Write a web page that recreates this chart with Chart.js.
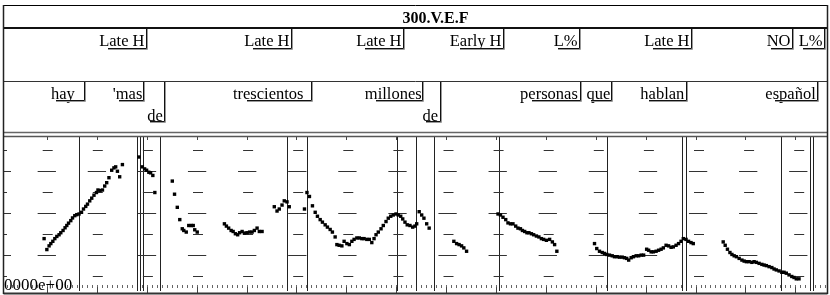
<!DOCTYPE html>
<html><head><meta charset="utf-8">
<script src="https://cdn.jsdelivr.net/npm/chart.js@4.4.1/dist/chart.umd.min.js"></script>
<style>html,body{margin:0;padding:0;background:#fff;}#wrap{position:relative;width:830px;height:295px;}canvas{display:block;}</style>
</head><body><div id="wrap"><canvas id="c" width="830" height="295"></canvas></div>
<script>
// ---------- data ----------
const title = "300.V.E.F";
const toneLabels = ["Late H","Late H","Late H","Early H","L%","Late H","NO","L%"];
const toneTimes  = [0.596,1.176,1.624,2.026,2.330,2.780,3.184,3.313];
const wordLabels = ["hay","'mas","de","trescientos","millones","de","personas","que","hablan","español"];
const wordTimes  = [0.344,0.584,0.665,1.256,1.702,1.773,2.333,2.461,2.760,3.286];
const wordTextEnds = [0.309,0.580,0.662,1.226,1.700,1.766,2.326,2.456,2.753,3.280];
const wordLines  = [0,0,1,0,0,1,0,0,0,0];
const pitchBoundaries = [0.329,0.560,0.571,0.584,0.653,1.162,1.242,1.602,1.681,1.752,2.013,2.446,2.744,2.760,3.144,3.261,3.272];
const yAxisLabel = "0000e+00";
const longLevels  = [100,150,200];
const shortLevels = [75,125,175,225];
const pitchTrack = [
 [0.186,120.0],[0.197,107.0],[0.206,111.4],[0.213,114.1],[0.221,116.8],[0.229,120.0],[0.237,122.6],[0.246,124.6],[0.253,127.0],[0.262,129.7],
 [0.270,132.9],[0.277,135.6],[0.284,138.4],[0.293,141.4],[0.300,144.6],[0.309,147.3],[0.317,148.5],[0.326,149.3],[0.336,151.3],[0.344,155.2],
 [0.353,158.3],[0.360,161.0],[0.369,164.9],[0.377,168.1],[0.386,171.6],[0.396,174.8],[0.402,177.8],[0.410,177.1],[0.420,177.8],[0.429,182.5],
 [0.437,186.5],[0.446,192.4],[0.457,201.3],[0.466,204.1],[0.473,205.3],[0.480,200.1],[0.489,193.5],[0.500,208.0],
 [0.566,217.0],[0.580,205.3],[0.589,202.9],[0.597,201.3],[0.606,198.9],[0.613,198.2],[0.622,195.1],[0.630,174.8],
 [0.700,188.4],[0.709,172.8],[0.720,157.2],[0.730,142.6],[0.740,131.7],[0.746,129.7],[0.756,127.8],[0.766,135.6],[0.776,135.6],[0.784,135.6],[0.790,130.5],[0.800,127.8],
 [0.909,137.6],[0.917,134.9],[0.926,132.5],[0.936,129.7],[0.944,128.5],[0.953,125.8],[0.962,124.6],[0.970,127.0],[0.980,128.5],[0.989,126.6],
 [1.000,127.0],[1.010,127.8],[1.020,127.8],[1.029,129.7],[1.040,132.5],[1.049,128.5],[1.060,128.5],
 [1.109,157.9],[1.120,152.8],[1.129,155.2],[1.140,159.9],[1.149,164.9],[1.160,163.7],[1.169,157.9],
 [1.230,155.2],[1.240,174.8],[1.250,170.1],[1.262,159.0],[1.273,151.3],[1.282,146.6],[1.293,142.6],[1.302,139.6],[1.313,136.4],[1.322,133.7],
 [1.333,130.9],[1.342,127.8],[1.353,122.0],[1.360,112.9],[1.369,112.1],[1.380,111.4],[1.389,116.8],[1.400,114.1],[1.410,112.9],[1.420,116.8],
 [1.429,119.1],[1.440,120.8],[1.450,120.8],[1.460,120.0],[1.469,120.0],[1.480,119.1],[1.490,119.1],[1.500,115.3],[1.509,120.0],[1.517,124.6],
 [1.526,127.8],[1.537,131.7],[1.546,135.6],[1.557,140.3],[1.566,144.3],[1.576,146.6],[1.586,148.1],[1.597,149.3],[1.606,148.1],[1.616,146.6],
 [1.624,143.4],[1.633,139.6],[1.642,136.4],[1.653,135.6],[1.664,133.7],[1.673,134.9],[1.680,137.6],[1.690,152.0],[1.700,148.1],[1.709,144.3],
 [1.720,137.6],[1.730,132.5],
 [1.829,116.8],[1.840,114.1],[1.850,112.9],[1.860,111.4],[1.869,109.0],[1.880,105.0],
 [2.006,149.3],[2.016,148.1],[2.026,145.4],[2.037,142.6],[2.046,138.7],[2.056,137.6],[2.066,137.6],[2.077,134.9],[2.086,132.5],[2.096,131.7],
 [2.104,129.7],[2.113,128.5],[2.122,127.0],[2.130,127.0],[2.140,125.8],[2.149,124.6],[2.160,123.1],[2.170,122.0],[2.180,120.0],[2.189,119.1],
 [2.200,118.0],[2.213,119.1],[2.224,116.1],[2.233,112.9],[2.242,105.0],
 [2.393,114.1],[2.402,108.2],[2.413,105.0],[2.424,103.5],[2.433,102.4],[2.442,101.2],[2.453,100.4],[2.464,99.6],[2.473,98.5],[2.484,98.5],
 [2.493,98.0],[2.504,98.0],[2.513,97.3],[2.522,96.5],[2.530,94.5],[2.540,97.3],[2.549,98.5],[2.560,99.6],[2.570,99.6],[2.580,100.4],
 [2.590,100.4],[2.602,107.4],[2.610,106.2],[2.620,104.3],[2.629,104.3],[2.640,105.0],[2.650,106.2],[2.660,107.4],[2.669,109.0],[2.680,112.1],
 [2.690,111.4],[2.700,109.7],[2.709,110.2],[2.720,112.1],[2.730,114.1],[2.740,116.8],[2.749,120.0],[2.760,119.1],[2.770,116.8],[2.780,115.3],[2.789,114.1],
 [2.909,116.1],[2.917,112.1],[2.926,107.4],[2.936,103.5],[2.944,101.2],[2.953,99.6],[2.962,98.5],[2.973,96.5],[2.984,94.5],[2.993,93.3],
 [3.002,92.6],[3.013,92.6],[3.024,91.8],[3.033,92.6],[3.042,91.8],[3.053,90.6],[3.064,89.4],[3.073,88.6],[3.082,87.9],[3.093,86.7],
 [3.104,85.6],[3.113,83.9],[3.122,82.8],[3.133,81.6],[3.144,80.0],[3.153,80.0],[3.162,78.9],[3.173,76.9],[3.184,75.0],[3.193,73.8],[3.202,72.2],[3.213,72.2]
];

// ---------- axis ranges ----------
const T_MIN = 0.0252, T_MAX = 3.3212;
const HZ_MIN = 57.75, HZ_MAX = 240.8;
const TICKROW_HZ = 64.8;
const MINOR_STEP = 0.02, MAJOR_STEP = 0.2;

const SERIF = '"Liberation Serif", "Times New Roman", serif';

function stepTicks(step){
  const out = [];
  for (let k = Math.ceil(T_MIN/step); k*step <= T_MAX; k++) out.push({value: +(k*step).toFixed(4)});
  return out;
}

const frame = {
  id: 'frame',
  afterDraw(chart){
    const ctx = chart.ctx, xs = chart.scales.x;
    const L = 3.5, R = 827.5;
    ctx.save();
    const line = (x1,y1,x2,y2,w,c) => {ctx.beginPath();ctx.lineWidth=w;ctx.strokeStyle=c;ctx.moveTo(x1,y1);ctx.lineTo(x2,y2);ctx.stroke();};
    line(L,5.5,R,5.5,1,'#000');
    line(L,28,R,28,2,'#111');
    line(L,81.5,R,81.5,1,'#333');
    line(L,132.5,R,132.5,1.5,'#666');
    line(L,136.5,R,136.5,1.5,'#555');
    line(L,293.5,R,293.5,2,'#333');
    line(L,5,L,294,1.5,'#222');
    line(R,5,R,294,1.5,'#222');

    ctx.fillStyle = '#000';
    ctx.textBaseline = 'alphabetic';
    ctx.font = 'bold 16px ' + SERIF;
    ctx.textAlign = 'center';
    ctx.fillText(title, 435.5, 22.5);

    const drawLabel = (lab, bt, et, top, base, under) => {
      ctx.font = '16.5px ' + SERIF;
      ctx.textAlign = 'right';
      const bx = Math.round(xs.getPixelForValue(bt)) + 0.5;
      const tx = et == null ? bx - 2 : xs.getPixelForValue(et);
      const w = ctx.measureText(lab).width;
      ctx.fillStyle = '#000';
      ctx.fillText(lab, tx, base);
      const ux = Math.round(tx - w*0.8);
      line(ux, under+1, bx+1, under+1, 1, '#9a9a9a');
      line(bx+1, top, bx+1, under+1, 1, '#9a9a9a');
      ctx.beginPath();ctx.lineWidth=1;ctx.strokeStyle='#111';
      ctx.moveTo(ux, under);ctx.lineTo(bx, under);ctx.lineTo(bx, top);ctx.stroke();
    };
    toneLabels.forEach((lab,i) => drawLabel(lab, toneTimes[i], null, 29, 46, 48.5));
    const rowBase = [98.5, 120.5], rowUnder = [100.5, 121.5];
    wordLabels.forEach((lab,i) => drawLabel(lab, wordTimes[i], wordTextEnds[i], 82, rowBase[wordLines[i]], rowUnder[wordLines[i]]));

    ctx.font = '17px ' + SERIF;
    ctx.textAlign = 'left';
    ctx.fillStyle = '#000';
    ctx.fillText(yAxisLabel, 4, 289.5);
    ctx.restore();
  }
};

new Chart(document.getElementById('c'), {
  type: 'scatter',
  data: { datasets: [{
    data: pitchTrack.map(([t,hz]) => ({x: t, y: hz})),
    pointStyle: 'rect', pointRadius: 2.4, pointBorderWidth: 0,
    backgroundColor: '#000', borderColor: '#000', showLine: false
  }]},
  options: {
    responsive: false, animation: false, devicePixelRatio: 1, events: [],
    layout: { padding: { top: 137, bottom: 2, left: 3, right: 3 } },
    plugins: { legend: {display: false}, tooltip: {enabled: false} },
    scales: {
      x: { type: 'linear', min: T_MIN, max: T_MAX, position: {y: TICKROW_HZ},
           ticks: {display: false}, border: {display: false},
           grid: {drawOnChartArea: false, drawTicks: true, tickLength: 3, tickColor: '#666', tickWidth: 1},
           afterBuildTicks: s => { s.ticks = stepTicks(MINOR_STEP); } },
      xt: { axis: 'x', type: 'linear', min: T_MIN, max: T_MAX, position: {y: HZ_MAX},
           ticks: {display: false}, border: {display: false},
           grid: {drawOnChartArea: false, drawTicks: true, tickLength: 3, tickColor: '#444'},
           afterBuildTicks: s => { s.ticks = stepTicks(MAJOR_STEP); } },
      xm: { axis: 'x', type: 'linear', min: T_MIN, max: T_MAX, position: {y: TICKROW_HZ - 2},
           ticks: {display: false}, border: {display: false},
           grid: {drawOnChartArea: false, drawTicks: true, tickLength: 6, tickColor: '#444'},
           afterBuildTicks: s => { s.ticks = stepTicks(MAJOR_STEP); } },
      xb: { axis: 'x', type: 'linear', min: T_MIN, max: T_MAX, position: {y: HZ_MIN},
           ticks: {display: false}, border: {display: false},
           grid: {drawOnChartArea: true, drawTicks: false, color: '#222', lineWidth: 1},
           afterBuildTicks: s => { s.ticks = pitchBoundaries.map(v => ({value: v})); } },
      y: { type: 'linear', min: HZ_MIN, max: HZ_MAX, position: {x: 0.0532},
           ticks: {display: false},
           border: {display: false, dash: [18.3, 31.8], dashOffset: 16.45},
           grid: {color: '#333', lineWidth: 1, drawTicks: true, tickLength: 7},
           afterBuildTicks: s => { s.ticks = longLevels.map(v => ({value: v})); } },
      y2: { axis: 'y', type: 'linear', min: HZ_MIN, max: HZ_MAX, position: {x: 0.0392},
           ticks: {display: false},
           border: {display: false, dash: [10, 40.1], dashOffset: 11.4},
           grid: {color: '#333', lineWidth: 1, drawTicks: true, tickLength: 3.5},
           afterBuildTicks: s => { s.ticks = shortLevels.map(v => ({value: v})); } }
    }
  },
  plugins: [frame]
});
</script>
</body></html>
